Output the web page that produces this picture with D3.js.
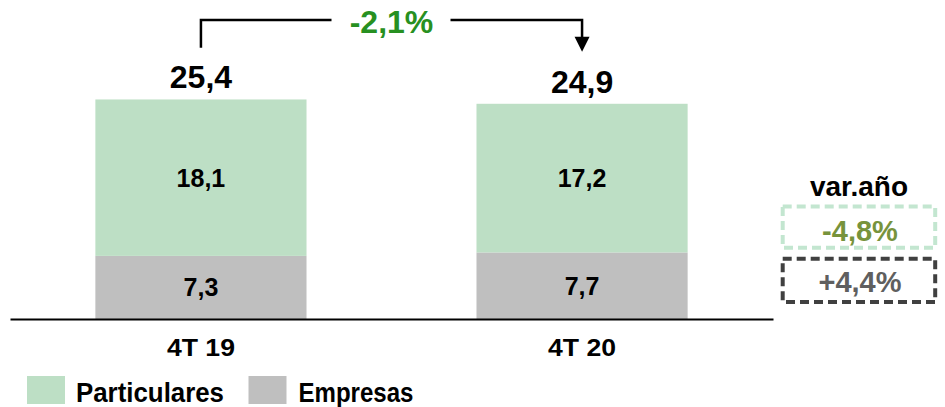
<!DOCTYPE html>
<html><head><meta charset="utf-8">
<script src="https://cdn.jsdelivr.net/npm/d3@7"></script>
<style>
html,body{margin:0;padding:0;background:#fff;}
svg{display:block;}
text{font-family:"Liberation Sans",Arial,sans-serif;font-weight:bold;}
</style></head>
<body>
<svg id="chart" width="945" height="407"></svg>
<script>
const categories = ["4T 19", "4T 20"];
const seriesNames = ["Particulares", "Empresas"];
const particulares = [18.1, 17.2];
const empresas = [7.3, 7.7];
const totals = [25.4, 24.9];
const changeLabel = "-2,1%";
const varTitle = "var.año";
const varLabels = ["-4,8%", "+4,4%"];

const colors = {Particulares: "#BDDFC5", Empresas: "#BFBFBF"};
const fmt = v => v.toFixed(1).replace(".", ",");

const svg = d3.select("#chart");
const x = d3.scaleBand().domain(categories).range([10, 773]).paddingInner(0.446).paddingOuter(0.224);
const y = d3.scaleLinear().domain([0, 30]).range([319, 59.7]);

const rows = categories.map((c, i) => ({cat: c, Empresas: empresas[i], Particulares: particulares[i]}));
const stack = d3.stack().keys(["Empresas", "Particulares"])(rows);

const g = svg.append("g");
stack.forEach(layer => {
  g.selectAll(null).data(layer).enter().append("rect")
    .attr("x", d => x(d.data.cat))
    .attr("width", x.bandwidth())
    .attr("y", d => y(d[1]))
    .attr("height", d => y(d[0]) - y(d[1]))
    .attr("fill", colors[layer.key]);
  g.selectAll(null).data(layer).enter().append("text")
    .attr("x", d => x(d.data.cat) + x.bandwidth() / 2)
    .attr("y", d => (y(d[0]) + y(d[1])) / 2 + 9)
    .attr("text-anchor", "middle")
    .attr("font-size", 25)
    .attr("fill", "#000")
    .text(d => fmt(d[1] - d[0]));
});

// totals
g.selectAll(null).data(categories).enter().append("text")
  .attr("x", d => x(d) + x.bandwidth() / 2)
  .attr("y", (d, i) => y(totals[i]) - 11)
  .attr("text-anchor", "middle")
  .attr("font-size", 32)
  .attr("fill", "#000")
  .text((d, i) => fmt(totals[i]));

// axis
const axis = svg.append("g").attr("transform", "translate(0,319)")
  .call(d3.axisBottom(x).tickSize(0).tickSizeOuter(0));
axis.select(".domain").attr("stroke", "#000").attr("stroke-width", 2);
axis.selectAll("text").attr("dy", null).attr("y", 37)
  .attr("font-size", 24).attr("font-family", "Liberation Sans, Arial, sans-serif")
  .attr("font-weight", "bold").attr("fill", "#000").attr("textLength", 68).attr("lengthAdjust", "spacingAndGlyphs");

// bracket arrow
const cx0 = x(categories[0]) + x.bandwidth() / 2;
const cx1 = x(categories[1]) + x.bandwidth() / 2;
const midX = (cx0 + cx1) / 2;
const lineY = 20;
svg.append("path")
  .attr("d", `M${cx0},47.7 V${lineY} H${midX - 60}`)
  .attr("fill", "none").attr("stroke", "#000").attr("stroke-width", 2.5);
svg.append("path")
  .attr("d", `M${midX + 59},${lineY} H${cx1} V40`)
  .attr("fill", "none").attr("stroke", "#000").attr("stroke-width", 2.5);
svg.append("path")
  .attr("d", `M${cx1 - 7.5},36.7 L${cx1 + 7.5},36.7 L${cx1},51.7 Z`)
  .attr("fill", "#000");
svg.append("text")
  .attr("x", midX).attr("y", 33)
  .attr("text-anchor", "middle").attr("font-size", 32)
  .attr("fill", "#279021")
  .text(changeLabel);

// var.año panel
const vg = svg.append("g");
vg.append("text").attr("x", 859).attr("y", 196).attr("text-anchor", "middle")
  .attr("font-family", "Lato, 'Open Sans', sans-serif").attr("font-size", 28)
  .attr("fill", "#000").text(varTitle);
const boxColors = ["#C3E6D0", "#404040"];
const boxText = ["#77933C", "#5F5F5F"];
const boxY = [206.5, 258.7];
const boxH = [41.3, 43.3];
varLabels.forEach((lab, i) => {
  vg.append("rect").attr("x", 782.7).attr("y", boxY[i]).attr("width", 152.5).attr("height", boxH[i])
    .attr("fill", "none").attr("stroke", boxColors[i]).attr("stroke-width", 4)
    .attr("stroke-dasharray", "9,5");
  vg.append("text").attr("x", 860).attr("y", [241, 292][i]).attr("text-anchor", "middle")
    .attr("font-family", "Lato, 'Open Sans', sans-serif").attr("font-size", 29)
    .attr("fill", boxText[i]).text(lab);
});

// legend
const legX = [27, 248.5];
const legTX = [76, 298.5];
const legW = [148, 115];
seriesNames.forEach((s, i) => {
  svg.append("rect").attr("x", legX[i]).attr("y", 376).attr("width", 38).attr("height", 28)
    .attr("fill", colors[s]);
  svg.append("text").attr("x", legTX[i]).attr("y", 402).attr("font-size", 27)
    .attr("fill", "#000").attr("textLength", legW[i]).attr("lengthAdjust", "spacingAndGlyphs").text(s);
});
</script>
</body></html>
